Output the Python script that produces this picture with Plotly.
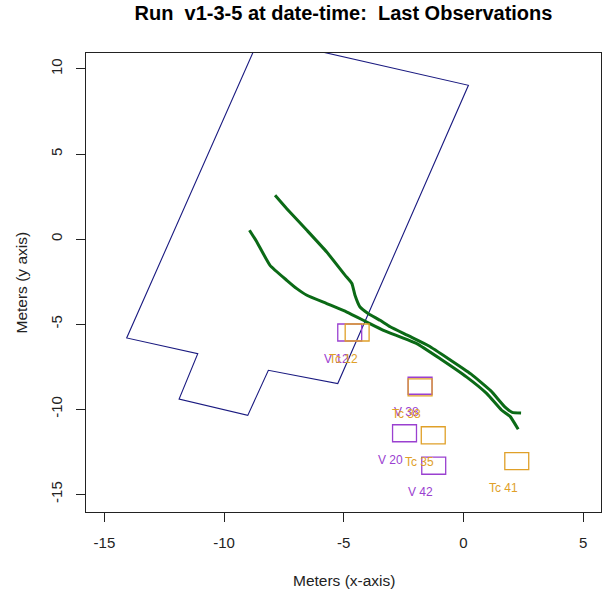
import plotly.graph_objects as go

# ---- data (meters) ----
boundary_x = [-8.52, 0.21, -5.25, -8.15, -9.01, -11.88, -11.10, -14.07, -8.52]
boundary_y = [11.84, 9.04, -8.49, -7.71, -10.36, -9.40, -6.73, -5.81, 11.84]

track_a_x = [-7.87, -7.38, -6.54, -5.71, -4.94, -4.66, -4.53, -4.32, -3.97, -3.48,
             -3.06, -2.28, -1.44, -0.61, 0.31, 1.15, 1.73, 2.04, 2.41]
track_a_y = [2.58, 1.79, 0.52, -0.76, -2.13, -2.61, -3.30, -3.99, -4.38, -4.77,
             -5.15, -5.69, -6.28, -7.04, -7.92, -8.92, -9.86, -10.18, -10.22]

track_b_x = [-8.94, -8.63, -8.08, -7.38, -6.96, -6.54, -5.71, -4.87, -4.04, -3.34,
             -1.95, -0.97, 0.14, 0.98, 1.60, 1.95, 2.29]
track_b_y = [0.52, -0.17, -1.54, -2.42, -2.91, -3.30, -3.79, -4.29, -4.87, -5.36,
             -6.14, -7.03, -8.11, -9.08, -10.06, -10.42, -11.18]

purple_x = [-4.75, -1.81, -2.46, -1.24]
purple_y = [-5.49, -8.62, -11.41, -13.32]
purple_labels = ["V 12", "V 38", "V 20", "V 42"]

orange_x = [-4.44, -1.81, -1.26, 2.23]
orange_y = [-5.49, -8.72, -11.53, -13.05]
orange_labels = ["Tc 12", "Tc 38", "Tc 35", "Tc 41"]

x_ticks = [-15, -10, -5, 0, 5]
x_tick_text = ["-15", "-10", "-5", "0", "5"]
y_ticks = [-15, -10, -5, 0, 5, 10]
y_tick_text = ["-15", "-10", "-5", "0", "5", "10"]

# ---- styling ----
NAVY = "#1a1a80"
GREEN = "#0b6a16"
PURPLE = "#9a40d0"
ORANGE = "#e0a028"
FONT = "Liberation Sans, Arial, sans-serif"
HALF = 0.5          # half side of the square markers (m)
LBL_DX, LBL_DY = -0.57, -1.55

fig = go.Figure()
fig.add_trace(go.Scatter(x=boundary_x, y=boundary_y, mode="lines",
                         line=dict(color=NAVY, width=1.1), hoverinfo="skip"))
for tx, ty in ((track_a_x, track_a_y), (track_b_x, track_b_y)):
    fig.add_trace(go.Scatter(x=tx, y=ty, mode="lines",
                             line=dict(color=GREEN, width=3.0, shape="spline", smoothing=0.4),
                             hoverinfo="skip"))

shapes = []
annotations = []
for xs, ys, labels, col in ((purple_x, purple_y, purple_labels, PURPLE),
                            (orange_x, orange_y, orange_labels, ORANGE)):
    for cx, cy, lab in zip(xs, ys, labels):
        shapes.append(dict(type="rect", xref="x", yref="y",
                           x0=cx - HALF, x1=cx + HALF, y0=cy - HALF, y1=cy + HALF,
                           line=dict(color=col, width=1.3)))
        annotations.append(dict(x=cx + LBL_DX, y=cy + LBL_DY, xref="x", yref="y",
                                text=lab, showarrow=False,
                                font=dict(family=FONT, size=12, color=col)))

annotations.append(dict(text="Meters (x-axis)", x=0.5, y=0, xref="paper", yref="paper",
                        yanchor="middle", yshift=-68, showarrow=False,
                        font=dict(family=FONT, size=15.5, color="#222")))
annotations.append(dict(text="Meters (y axis)", x=0, y=0.5, xref="paper", yref="paper",
                        xanchor="center", xshift=-65, textangle=-90, showarrow=False,
                        font=dict(family=FONT, size=15.5, color="#222")))

fig.update_layout(
    width=602, height=594,
    margin=dict(l=86, r=1, t=53, b=82),
    paper_bgcolor="white", plot_bgcolor="white",
    showlegend=False,
    shapes=shapes, annotations=annotations,
    title=dict(text="Run\u00a0 v1-3-5 at date-time:\u00a0 Last Observations",
               x=0.5, xref="paper", y=1 - 13 / 594, yref="container",
               xanchor="center", yanchor="middle",
               font=dict(family=FONT, size=20, color="black", weight="bold")),
    xaxis=dict(range=[-15.77, 5.75], tickvals=x_ticks, ticktext=x_tick_text,
               ticks="outside", ticklen=9,
               tickcolor="#222", showgrid=False, zeroline=False,
               showline=True, linecolor="#222", linewidth=1, mirror=True,
               ticklabelstandoff=8,
               tickfont=dict(family=FONT, size=15, color="#222")),
    yaxis=dict(range=[-16.04, 10.94], tickvals=y_ticks, ticktext=y_tick_text,
               ticks="outside", ticklen=9,
               tickcolor="#222", showgrid=False, zeroline=False,
               showline=True, linecolor="#222", linewidth=1, mirror=True,
               tickangle=-90, ticklabelstandoff=8,
               tickfont=dict(family=FONT, size=15, color="#222")),
)

fig.write_html("out.html", config={"displayModeBar": False},
               post_script="document.body.style.margin='0';document.body.style.overflow='hidden';")
